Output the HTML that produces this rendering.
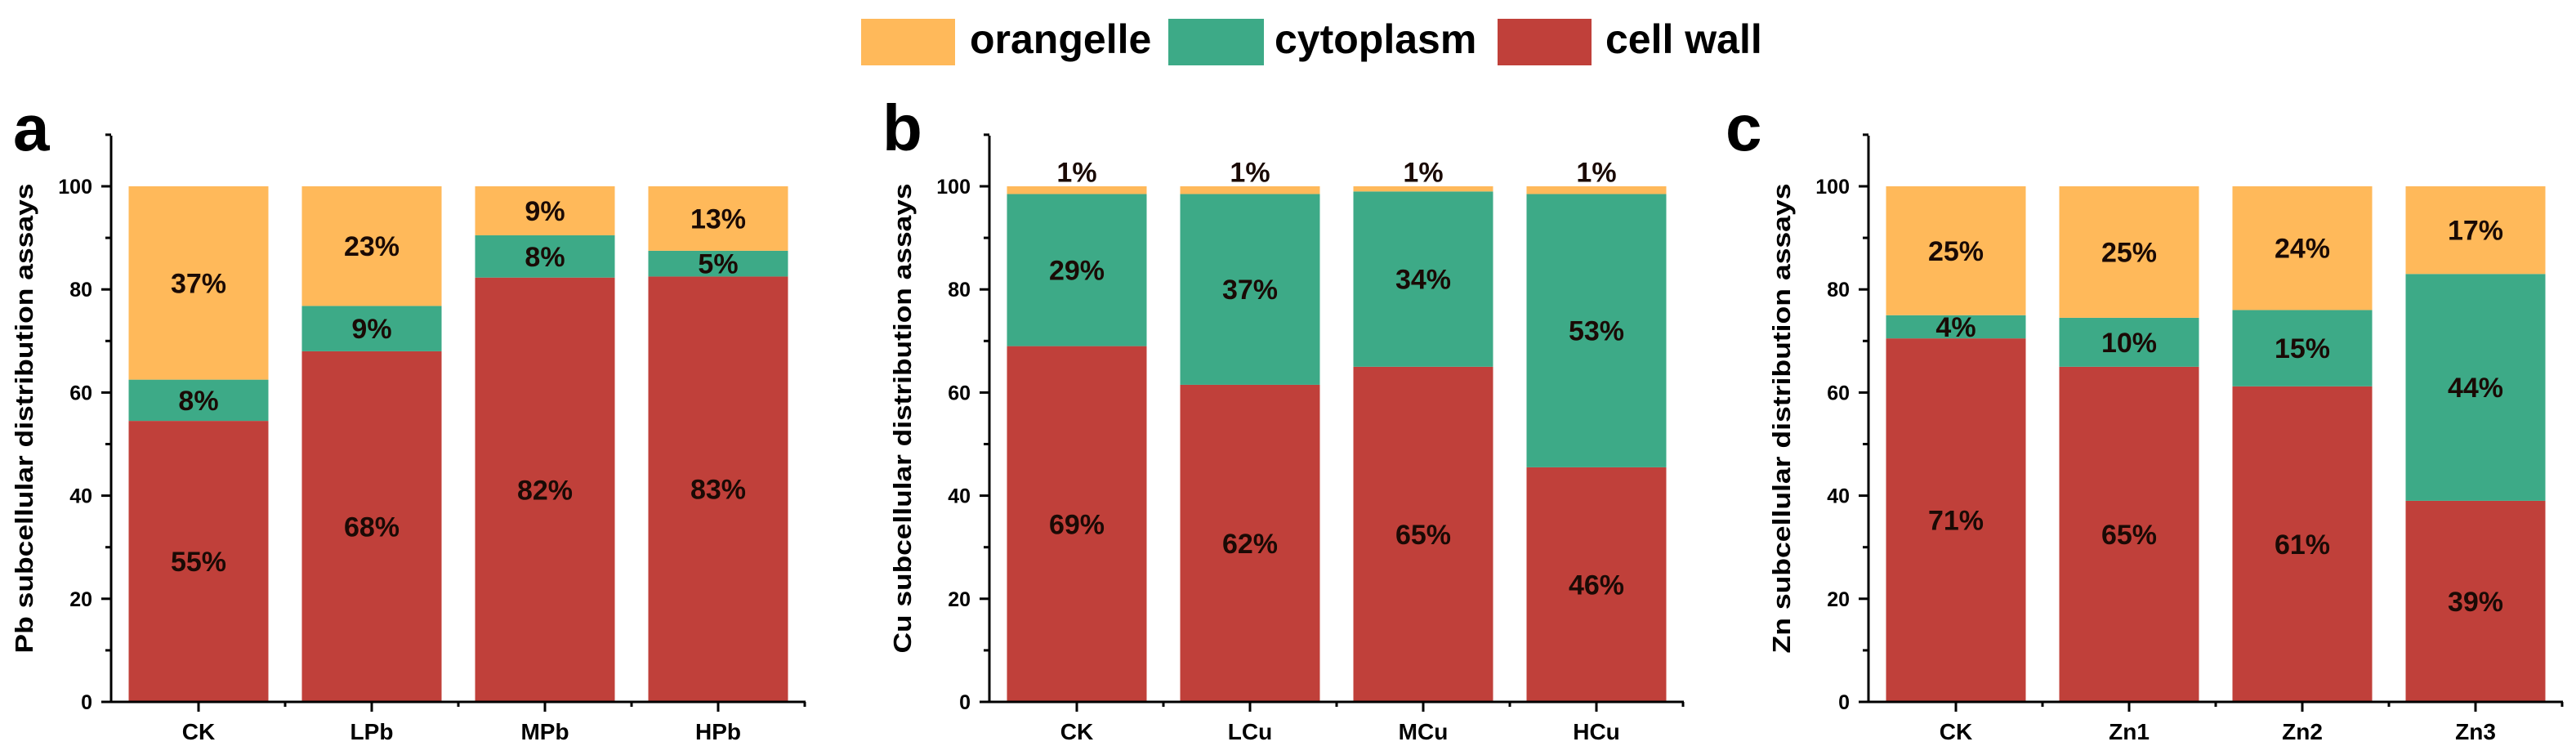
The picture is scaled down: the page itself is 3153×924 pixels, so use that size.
<!DOCTYPE html>
<html><head><meta charset="utf-8"><style>
html,body{margin:0;padding:0;background:#fff;}
svg{display:block;font-family:"Liberation Sans",Arial,sans-serif;font-weight:bold;}
</style></head><body>
<svg id="chart" width="3153" height="924" viewBox="0 0 3153 924" xmlns="http://www.w3.org/2000/svg">
  <g>
    <rect x="1054" y="23" width="115" height="57" fill="#FFB95A"/>
    <text x="1187" y="65" font-size="50">orangelle</text>
    <rect x="1430" y="23" width="117" height="57" fill="#3DAA87"/>
    <text x="1560" y="65" font-size="50">cytoplasm</text>
    <rect x="1833" y="23" width="115" height="57" fill="#C0403A"/>
    <text x="1965" y="65" font-size="50">cell wall</text>
  </g>
</svg>
<script>
const catsA = ["CK","LPb","MPb","HPb"];
const wallA = [54.5, 68, 82.3, 82.5];
const cytoA = [8, 8.8, 8.2, 5];
const wallLabA = ["55%","68%","82%","83%"];
const cytoLabA = ["8%","9%","8%","5%"];
const orgLabA = ["37%","23%","9%","13%"];

const catsB = ["CK","LCu","MCu","HCu"];
const wallB = [69, 61.5, 65, 45.5];
const cytoB = [29.5, 37, 34, 53];
const wallLabB = ["69%","62%","65%","46%"];
const cytoLabB = ["29%","37%","34%","53%"];
const orgLabB = ["1%","1%","1%","1%"];

const catsC = ["CK","Zn1","Zn2","Zn3"];
const wallC = [70.5, 65, 61.2, 39];
const cytoC = [4.5, 9.5, 14.8, 44];
const wallLabC = ["71%","65%","61%","39%"];
const cytoLabC = ["4%","10%","15%","44%"];
const orgLabC = ["25%","25%","24%","17%"];

const yTicks = [0,20,40,60,80,100];

const NS = "http://www.w3.org/2000/svg";
const svg = document.getElementById("chart");
function mk(tag, attrs, parent){
  const e = document.createElementNS(NS, tag);
  for (const k in attrs) e.setAttribute(k, attrs[k]);
  (parent||svg).appendChild(e);
  return e;
}
const Y0 = 859, YPER = 6.31, STEP = 212, BW = 171;
function yS(v){ return Y0 - v*YPER; }

function panel(id, axisX, letter, letterX, title, cats, wall, cyto, wl, cl, ol, orgAbove){
  const g = mk("g", {});
  
  
  const xC = i => axisX + 107 + i*STEP;
  const L = mk("text", {x:letterX, y:184, "font-size":80}, g);
  L.textContent = letter;
  
  
  cats.forEach((c,i)=>{
    const x = xC(i) - BW/2;
    const tot = wall[i] + cyto[i];
    const rw = mk("rect", {x:x, y:yS(wall[i]), width:BW, height:wall[i]*YPER, fill:"#C0403A"}, g);
    
    
    const rc = mk("rect", {x:x, y:yS(tot), width:BW, height:cyto[i]*YPER, fill:"#3DAA87"}, g);
    
    
    const ro = mk("rect", {x:x, y:yS(100), width:BW, height:(100-tot)*YPER, fill:"#FFB95A"}, g);
    
    
    const labs = [
      [wl[i], wall[i]/2, 'label-cell-wall-'],
      [cl[i], wall[i] + cyto[i]/2, 'label-cytoplasm-'],
      [ol[i], orgAbove ? 102.8 : (tot + 100)/2, 'label-orangelle-']
    ];
    labs.forEach(l=>{
      const t = mk("text", {x:xC(i), y:yS(l[1]) + 12, "font-size":34, "text-anchor":"middle", fill:"#1a0a05"}, g);
      t.textContent = l[0];
      
      
    });
    const ct = mk("text", {x:xC(i), y:905, "font-size":28, "text-anchor":"middle"}, g);
    ct.textContent = c;
    
    
    mk("line", {x1:xC(i), x2:xC(i), y1:Y0, y2:Y0+12, stroke:"#000", "stroke-width":3}, g);
    mk("line", {x1:xC(i)+106, x2:xC(i)+106, y1:Y0, y2:Y0+6, stroke:"#000", "stroke-width":3}, g);
  });
  const ya = mk("line", {x1:axisX, x2:axisX, y1:166, y2:Y0+1.5, stroke:"#000", "stroke-width":3}, g);
  
  
  const xa = mk("line", {x1:axisX-1.5, x2:axisX + 4*STEP + 2, y1:Y0, y2:Y0, stroke:"#000", "stroke-width":3}, g);
  
  
  yTicks.forEach(v=>{
    mk("line", {x1:axisX-12, x2:axisX, y1:yS(v), y2:yS(v), stroke:"#000", "stroke-width":3}, g);
    const t = mk("text", {x:axisX-23, y:yS(v)+9, "font-size":25, "text-anchor":"end"}, g);
    t.textContent = v;
    
    
    if (v < 110) mk("line", {x1:axisX-7, x2:axisX, y1:yS(v+10), y2:yS(v+10), stroke:"#000", "stroke-width":3}, g);
  });
  const tt = mk("text", {x:0, y:0, "font-size":31, "text-anchor":"middle", transform:"translate(" + (axisX-96) + ",512) rotate(-90)", textLength:575, lengthAdjust:"spacingAndGlyphs"}, g);
  tt.textContent = title;
  
  
}
panel("a", 136, "a", 16, "Pb subcellular distribution assays", catsA, wallA, cytoA, wallLabA, cytoLabA, orgLabA, false);
panel("b", 1211, "b", 1080, "Cu subcellular distribution assays", catsB, wallB, cytoB, wallLabB, cytoLabB, orgLabB, true);
panel("c", 2287, "c", 2112, "Zn subcellular distribution assays", catsC, wallC, cytoC, wallLabC, cytoLabC, orgLabC, false);
</script>
</body></html>
